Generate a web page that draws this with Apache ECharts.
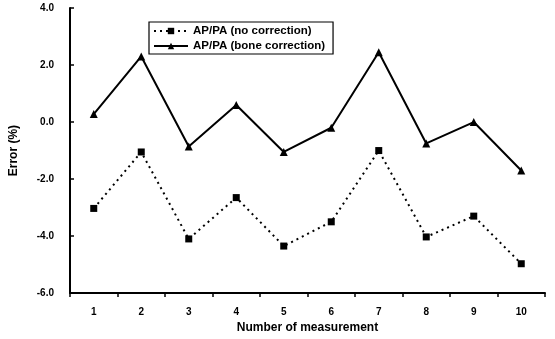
<!DOCTYPE html>
<html><head><meta charset="utf-8">
<script src="https://cdn.jsdelivr.net/npm/echarts@6/dist/echarts.min.js"></script>
<style>html,body{margin:0;padding:0;background:#fff}#c{width:555px;height:339px}</style>
</head><body><div id="c"></div>
<script>
const categories = ['1','2','3','4','5','6','7','8','9','10'];
const noCorrection = [-3.03, -1.05, -4.1, -2.65, -4.35, -3.5, -1.0, -4.03, -3.3, -4.97];
const boneCorrection = [0.28, 2.3, -0.86, 0.6, -1.05, -0.2, 2.45, -0.75, 0.0, -1.7];
const seriesNames = ['AP/PA (no correction)', 'AP/PA (bone correction)'];

const font = 'Liberation Sans, Arial, sans-serif';
const chart = echarts.init(document.getElementById('c'));
chart.setOption({
  animation: false,
  backgroundColor: '#fff',
  grid: {left: 69, right: 10, top: 8, bottom: 41},
  legend: {
    left: 149, top: 22, orient: 'vertical', itemGap: 3,
    itemWidth: 34, itemHeight: 8,
    borderColor: '#000', borderWidth: 1.2, padding: [3, 8, 2, 4],
    textStyle: {fontFamily: font, fontWeight: 'bold', fontSize: 11.5, color: '#000'},
    data: seriesNames
  },
  xAxis: {
    type: 'category', data: categories, boundaryGap: true,
    name: 'Number of measurement', nameLocation: 'middle', nameGap: 20,
    nameTextStyle: {fontFamily: font, fontWeight: 'bold', fontSize: 12, color: '#000'},
    axisLine: {onZero: false, lineStyle: {color: '#000', width: 2}},
    axisTick: {show: true, length: 4, lineStyle: {color: '#000', width: 1.5}},
    axisLabel: {fontFamily: font, fontWeight: 'bold', fontSize: 10, color: '#000', margin: 14}
  },
  yAxis: {
    type: 'value', min: -6, max: 4, interval: 2,
    name: 'Error (%)', nameLocation: 'middle', nameGap: 50, nameRotate: 90,
    nameTextStyle: {fontFamily: font, fontWeight: 'bold', fontSize: 12, color: '#000'},
    axisLine: {show: true, lineStyle: {color: '#000', width: 2}},
    axisTick: {show: true, inside: true, length: 4, lineStyle: {color: '#000', width: 1.5}},
    splitLine: {show: false},
    axisLabel: {fontFamily: font, fontWeight: 'bold', fontSize: 10, color: '#000', margin: 16,
      formatter: v => v.toFixed(1)}
  },
  series: [
    {
      name: seriesNames[0], type: 'line', data: noCorrection,
      symbol: 'rect', symbolSize: 7,
      lineStyle: {color: '#000', width: 2, type: [2, 4]},
      itemStyle: {color: '#000'}
    },
    {
      name: seriesNames[1], type: 'line', data: boneCorrection,
      symbol: 'triangle', symbolSize: 8,
      lineStyle: {color: '#000', width: 2},
      itemStyle: {color: '#000'}
    }
  ]
});
</script></body></html>
